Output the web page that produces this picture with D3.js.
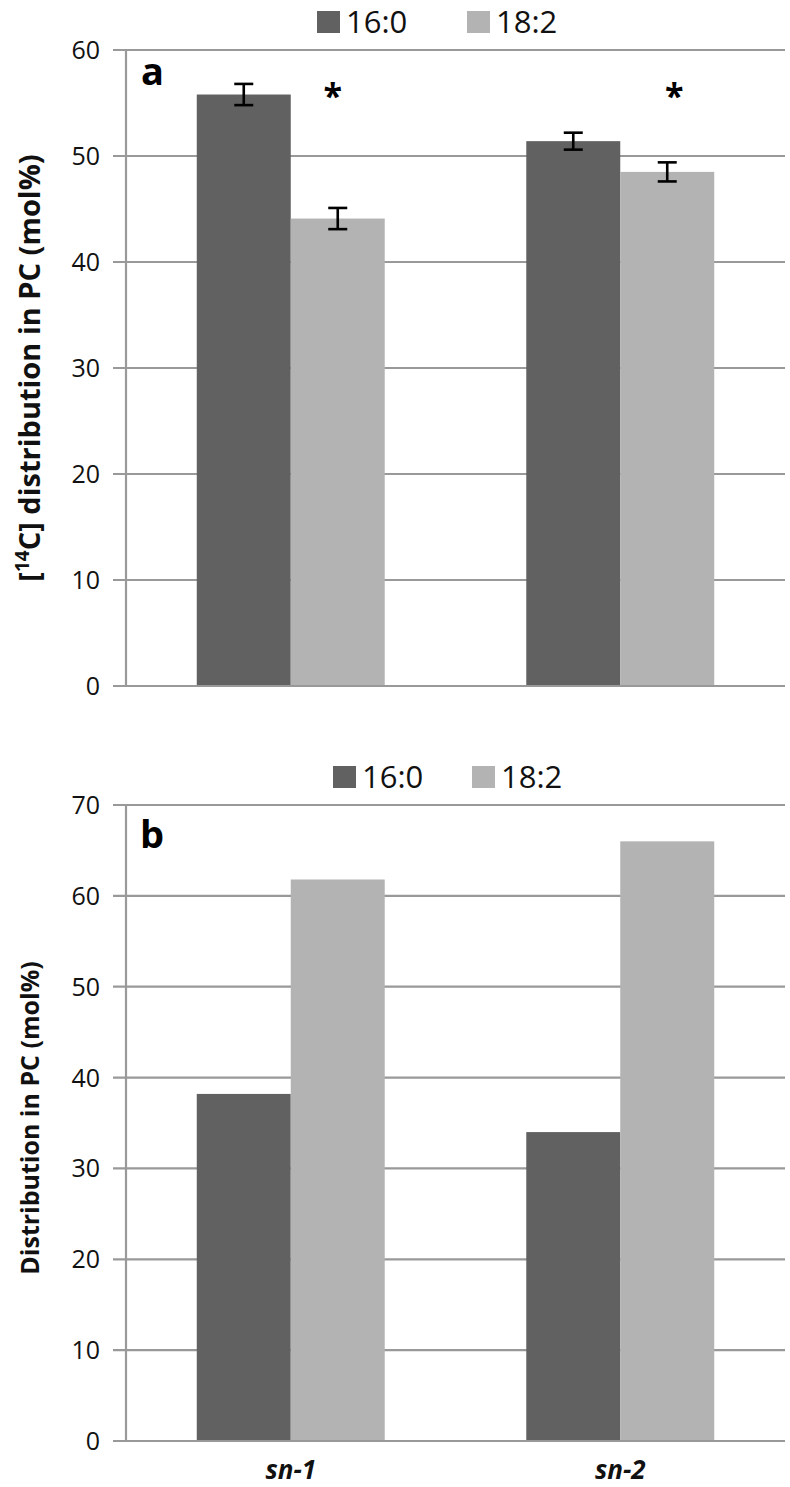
<!DOCTYPE html>
<html>
<head>
<meta charset="utf-8">
<script src="https://cdn.jsdelivr.net/npm/d3@7"></script>
<style>
body{margin:0;background:#fff;}
svg{display:block;}
text{font-family:"Open Sans",Lato,sans-serif;}
</style>
</head>
<body>
<svg id="chart" width="790" height="1487"></svg>
<script>
const categories = ["sn-1", "sn-2"];
const seriesNames = ["16:0", "18:2"];
const seriesColors = ["#616161", "#b3b3b3"];
// Panel a: [14C] distribution in PC (mol%)
const panelA_160 = [55.8, 51.4];
const panelA_182 = [44.1, 48.5];
const panelA_err160 = [1.0, 0.8];
const panelA_err182 = [1.0, 0.9];
const panelA_sig = [true, true];
const panelA_ticks = [0, 10, 20, 30, 40, 50, 60];
// Panel b: Distribution in PC (mol%)
const panelB_160 = [38.2, 34.0];
const panelB_182 = [61.8, 66.0];
const panelB_ticks = [0, 10, 20, 30, 40, 50, 60, 70];

const svg = d3.select("#chart");
const xL = 126, xR = 785;
const x0 = d3.scaleBand().domain(categories).range([xL, xR]).padding(0);
const x1 = d3.scaleBand().domain(seriesNames).range([0, x0.bandwidth()]).paddingInner(0).paddingOuter(0.753);
const starShift = [-5, 7];

function panel(cfg) {
  const g = svg.append("g");
  const y = d3.scaleLinear().domain([0, cfg.max]).range([cfg.y0, cfg.yTop]);
  g.selectAll("line.grid").data(cfg.ticks).enter().append("line")
    .attr("x1", 113).attr("x2", xR)
    .attr("y1", d => y(d)).attr("y2", d => y(d))
    .attr("stroke", "#999").attr("stroke-width", 2.2);
  g.selectAll("text.tick").data(cfg.ticks).enter().append("text")
    .attr("x", 100).attr("y", d => y(d) + 9)
    .attr("text-anchor", "end").attr("font-size", 25).attr("fill", "#111")
    .text(d => d);
  const data = [];
  categories.forEach((c, i) => {
    seriesNames.forEach((s, j) => {
      data.push({c, s, j, v: cfg.vals[j][i], e: cfg.errs ? cfg.errs[j][i] : null});
    });
  });
  g.selectAll("rect.bar").data(data).enter().append("rect")
    .attr("x", d => x0(d.c) + x1(d.s))
    .attr("width", x1.bandwidth())
    .attr("y", d => y(d.v))
    .attr("height", d => y(0) - y(d.v))
    .attr("fill", d => seriesColors[d.j]);
  g.append("line").attr("x1", xL).attr("x2", xL).attr("y1", y(cfg.max)).attr("y2", y(0))
    .attr("stroke", "#999").attr("stroke-width", 2.2);
  g.append("line").attr("x1", 113).attr("x2", xR).attr("y1", y(0)).attr("y2", y(0))
    .attr("stroke", "#999").attr("stroke-width", 2.2);
  if (cfg.errs) {
    const eb = g.selectAll("g.err").data(data).enter().append("g");
    eb.each(function(d) {
      const cx = x0(d.c) + x1(d.s) + x1.bandwidth() / 2;
      const s = d3.select(this);
      s.append("line").attr("x1", cx).attr("x2", cx).attr("y1", y(d.v + d.e)).attr("y2", y(d.v - d.e))
        .attr("stroke", "#000").attr("stroke-width", 2.6);
      [d.v + d.e, d.v - d.e].forEach(v => {
        s.append("line").attr("x1", cx - 9.5).attr("x2", cx + 9.5).attr("y1", y(v)).attr("y2", y(v))
          .attr("stroke", "#000").attr("stroke-width", 2.6);
      });
    });
  }
  if (cfg.sig) {
    g.selectAll("text.star").data(categories.filter((c, i) => cfg.sig[i])).enter().append("text")
      .attr("x", (c, i) => x0(c) + x1("18:2") + x1.bandwidth() / 2 + starShift[i])
      .attr("y", cfg.starY)
      .attr("text-anchor", "middle").attr("font-size", 34).attr("font-weight", "bold")
      .attr("font-family", "DejaVu Sans, sans-serif")
      .text("*");
  }
  g.append("text").attr("x", cfg.letterX).attr("y", cfg.letterY)
    .attr("font-size", 38).attr("font-weight", "bold").attr("font-family", "Liberation Sans, Arial, sans-serif")
    .text(cfg.letter);
  const lg = g.append("g");
  seriesNames.forEach((s, j) => {
    lg.append("rect").attr("x", cfg.legX[j]).attr("y", cfg.legY - 11).attr("width", 23).attr("height", 22)
      .attr("fill", seriesColors[j]);
    lg.append("text").attr("x", cfg.legX[j] + 29).attr("y", cfg.legY + 11)
      .attr("font-size", 31).attr("fill", "#111").text(s);
  });
  const yt = g.append("text")
    .attr("transform", `translate(${cfg.titleX},${cfg.titleY}) rotate(-90)`)
    .attr("text-anchor", "middle").attr("font-size", cfg.titleSize).attr("font-weight", "bold").attr("fill", "#111");
  cfg.title(yt);
  return y;
}

panel({
  max: 60, y0: 686, yTop: 50, ticks: panelA_ticks,
  vals: [panelA_160, panelA_182], errs: [panelA_err160, panelA_err182],
  sig: panelA_sig, starY: 108,
  letter: "a", letterX: 141, letterY: 85,
  legX: [317, 467], legY: 22,
  titleX: 40, titleY: 368, titleSize: 29,
  title: t => {
    t.append("tspan").text("[");
    t.append("tspan").attr("font-size", 19).attr("dy", -11).text("14");
    t.append("tspan").attr("dy", 11).text("C] distribution in PC (mol%)");
  }
});

panel({
  max: 70, y0: 1441, yTop: 805, ticks: panelB_ticks,
  vals: [panelB_160, panelB_182], errs: null, sig: null,
  letter: "b", letterX: 140, letterY: 848,
  legX: [333, 472], legY: 777,
  titleX: 39, titleY: 1118, titleSize: 25,
  title: t => t.text("Distribution in PC (mol%)")
});

svg.selectAll("text.xlab").data(categories).enter().append("text")
  .attr("x", c => x0(c) + x0.bandwidth() / 2)
  .attr("y", 1479)
  .attr("text-anchor", "middle").attr("font-size", 26).attr("font-weight", "bold").attr("font-style", "italic")
  .attr("fill", "#111")
  .text(c => c);
</script>
</body>
</html>
